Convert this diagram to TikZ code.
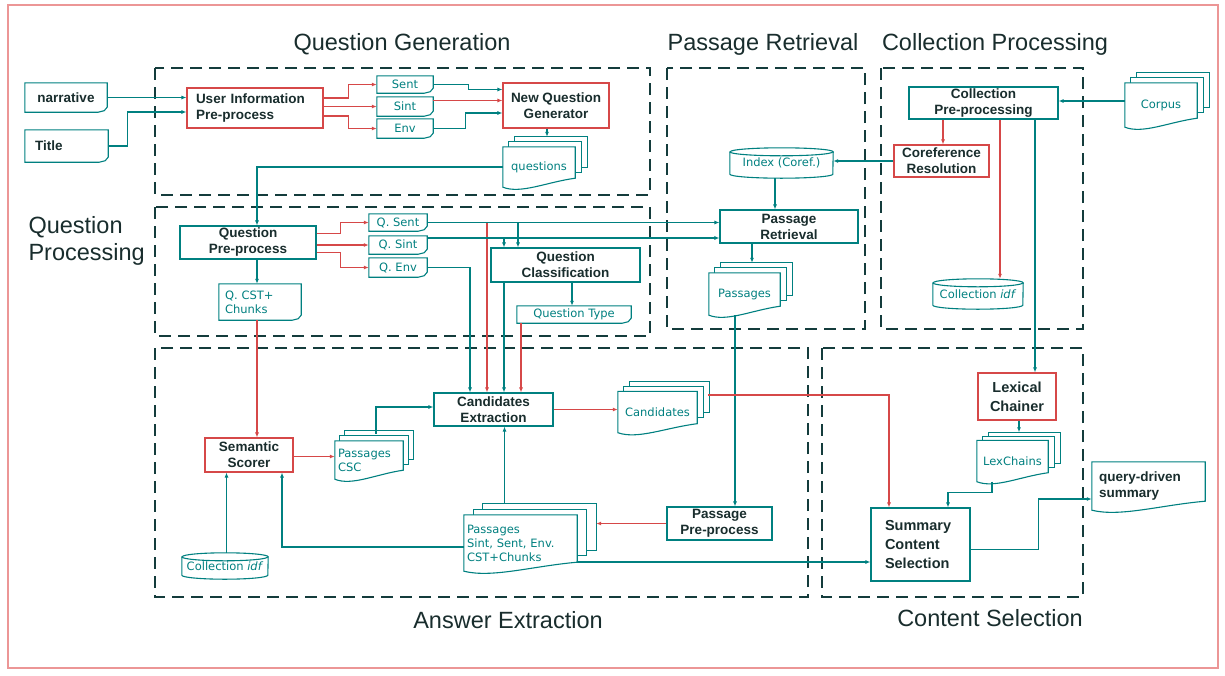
\documentclass[tikz,border=0pt]{standalone}
\usepackage{fontspec}
\setmainfont{DejaVu Sans}
\newfontfamily\lib{Liberation Sans}
\usetikzlibrary{arrows.meta,calc,backgrounds}
\definecolor{tl}{RGB}{0,128,128}
\definecolor{rd}{RGB}{214,72,72}
\definecolor{dk}{RGB}{25,45,45}
\definecolor{frm}{RGB}{236,150,150}
\definecolor{grpc}{RGB}{20,60,60}
\tikzset{
  bld/.style={font=\lib\fontsize{13.5}{16}\selectfont\bfseries, text=dk, align=center, inner sep=0pt},
  plain/.style={font=\fontsize{11.5}{14}\selectfont, text=tl, align=center, inner sep=0pt},
  box/.style={bld, draw=tl, line width=1.1pt, fill=white},
  rbox/.style={box, draw=rd},
  shp/.style={draw=tl, line width=1.1pt, fill=white},
  ln/.style={draw=tl, line width=1.1pt, -{Latex[length=5pt,width=4pt]}},
  rln/.style={ln, draw=rd},
  grp/.style={draw=grpc, line width=2.4pt, dash pattern=on 12pt off 7pt},
  ttl/.style={font=\lib\fontsize{23.5}{27}\selectfont, text=dk, align=left},
}
\newcommand{\DocW}[1]{%
  \path[shp] (#1.north west) -- (#1.north east) -- ([yshift=9pt]#1.south east)
    .. controls ($(#1.south west)!0.6!(#1.south east)+(0pt,5pt)$) and ($(#1.south west)!0.25!(#1.south east)+(0pt,-7pt)$) .. (#1.south west) -- cycle;}
\newcommand{\DocM}[3]{%
  \path[shp] ($(#1.north west)+({2*#2pt},{2*#3pt})$) rectangle ($(#1.south east)+({2*#2pt},{2*#3pt+10pt})$);
  \path[shp] ($(#1.north west)+(#2pt,#3pt)$) rectangle ($(#1.south east)+(#2pt,{#3pt+10pt})$);
  \DocW{#1}}
\newcommand{\DocE}[1]{%
  \path[shp] (#1.north west) -- (#1.north east) -- ([yshift=5pt]#1.south east) -- ([xshift=-3pt,yshift=1.5pt]#1.south east) -- ([xshift=-9pt]#1.south east) -- (#1.south west) -- cycle;}
\newcommand{\DocCyl}[2]{%
  \path[shp] ([yshift=-4pt]#1.north west) -- ([yshift=4pt]#1.south west)
     arc[start angle=180,end angle=360,x radius=#2pt,y radius=4pt]
     -- ([yshift=-4pt]#1.north east)
     arc[start angle=0,end angle=180,x radius=#2pt,y radius=4pt] -- cycle;
  \draw[shp,fill=none] ([yshift=-4pt]#1.north west) arc[start angle=180,end angle=360,x radius=#2pt,y radius=4pt];}
\begin{document}
\begin{tikzpicture}[x=1pt,y=-1pt]
\useasboundingbox (0,0) rectangle (1225,675);

% titles
\node[ttl] (tqg) at (402,44) {Question Generation};
\node[ttl] (tpr) at (763,44) {Passage Retrieval};
\node[ttl] (tcp) at (995,44) {Collection Processing};
\node[ttl, anchor=west] (tqp) at (25,241) {Question\\Processing};
\node[ttl] (tae) at (508,620) {Answer Extraction};
\node[ttl] (tcs) at (990,618) {Content Selection};

% nodes
\node[bld, minimum width=82pt, minimum height=29pt] (narr) at (66,97.5) {narrative};
\node[bld, text width=63pt, inner xsep=10pt, align=left, minimum height=32pt] (title) at (66.5,146) {Title};
\node[rbox, text width=118pt, inner xsep=9pt, align=left, minimum height=40pt] (ui) at (255,108) {User Information\\Pre-process};
\node[plain, minimum width=56pt, minimum height=17pt] (sent) at (405,84.5) {Sent};
\node[plain, minimum width=56pt, minimum height=19pt] (sint) at (405,106.5) {Sint};
\node[plain, minimum width=56pt, minimum height=19pt] (env) at (405,128.5) {Env};
\node[rbox, minimum width=106pt, minimum height=45pt] (nqg) at (556,105.5) {New Question\\Generator};
\node[plain, minimum width=72pt, minimum height=40pt] (ques) at (539,167) {questions};

\node[box, minimum width=136pt, minimum height=33pt] (qp) at (248,242.5) {Question\\Pre-process};
\node[plain, minimum width=58pt, minimum height=17pt] (qsent) at (398,222.5) {Q. Sent};
\node[plain, minimum width=58pt, minimum height=18pt] (qsint) at (398,245) {Q. Sint};
\node[plain, minimum width=58pt, minimum height=19pt] (qenv) at (398,267.5) {Q. Env};
\node[plain, text width=70pt, inner xsep=6pt, align=left, minimum height=36pt] (qcst) at (260,302) {Q. CST+\\Chunks};
\node[box, minimum width=149pt, minimum height=34pt] (qc) at (565.5,265) {Question\\Classification};
\node[plain, minimum width=114pt, minimum height=17pt] (qt) at (574,314.5) {Question Type};

\node[plain, minimum width=103pt, minimum height=30pt] (idx) at (781.5,163) {Index (Coref.)};
\node[box, minimum width=138pt, minimum height=33pt] (pr) at (789,226.5) {Passage\\Retrieval};
\node[plain, minimum width=71pt, minimum height=42pt] (pas) at (744.5,294) {Passages};

\node[box, minimum width=149pt, minimum height=32pt] (cpp) at (983.5,103) {Collection\\Pre-processing};
\node[rbox, minimum width=95pt, minimum height=32pt] (coref) at (941.5,161) {Coreference\\Resolution};
\node[plain, minimum width=72pt, minimum height=44pt] (corpus) at (1161,105) {Corpus};
\node[plain, minimum width=90pt, minimum height=30pt] (cidf) at (978,294) {Collection \textit{idf}};

\node[box, minimum width=119pt, minimum height=33pt] (ce) at (493.5,409.5) {Candidates\\Extraction};
\node[plain, minimum width=79pt, minimum height=41pt] (cands) at (657.5,412) {Candidates};
\node[rbox, minimum width=88pt, minimum height=34pt] (ss) at (249,455) {Semantic\\Scorer};
\node[plain, text width=62pt, inner xsep=3pt, align=left, minimum height=38pt] (csc) at (369,460) {Passages\\CSC};
\node[plain, minimum width=86pt, minimum height=26pt] (cidfl) at (225,566) {Collection \textit{idf}};
\node[plain, text width=107pt, inner xsep=3pt, align=left, minimum height=56pt] (psg) at (520.5,543) {Passages\\Sint, Sent, Env.\\CST+Chunks};
\node[box, minimum width=105pt, minimum height=33pt] (ppp) at (719.5,523.5) {Passage\\Pre-process};

\node[rbox, font=\lib\fontsize{14.5}{19}\selectfont\bfseries, minimum width=78pt, minimum height=47pt] (lc) at (1017,396.5) {Lexical\\Chainer};
\node[plain, minimum width=71pt, minimum height=41pt] (lex) at (1012.5,461) {LexChains};
\node[box, font=\lib\fontsize{14.5}{19}\selectfont\bfseries, text width=71pt, inner xsep=14pt, align=left, minimum height=73pt] (scs) at (920.5,544.5) {Summary\\Content\\Selection};
\node[bld, text width=99pt, inner xsep=7pt, align=left, minimum height=48pt] (qds) at (1148.5,486) {query-driven\\summary\\[6pt]};

\coordinate (psgback) at ([xshift=19pt]psg.east);

% background shapes
\begin{scope}[on background layer]
  \draw[frm, line width=1.2pt] (8,5) rectangle (1218,668);
  \draw[grp] (155,68) rectangle (650,195);
  \draw[grp] (155,207) rectangle (650,336);
  \draw[grp] (667,68) rectangle (865,329);
  \draw[grp] (881,68) rectangle (1083,329);
  \draw[grp] (155,348) rectangle (808,597);
  \draw[grp] (822,348) rectangle (1083,597);
  \DocE{narr}
  \DocE{title}
  \DocE{sent}
  \DocE{sint}
  \DocE{env}
  \DocM{ques}{6}{5}
  \DocE{qsent}
  \DocE{qsint}
  \DocE{qenv}
  \DocE{qcst}
  \DocE{qt}
  \DocCyl{idx}{51.5}
  \DocM{pas}{6}{5}
  \DocM{corpus}{6}{5}
  \DocCyl{cidf}{45}
  \DocM{cands}{6}{5}
  \DocM{csc}{5}{5}
  \DocCyl{cidfl}{43}
  \DocM{psg}{9.5}{5.5}
  \DocM{lex}{6}{4}
  \DocW{qds}
\end{scope}

% connectors
\draw[ln] (narr.east) -- (narr.east -| ui.west);
\draw[ln] (title.east) -- ++(19,0) |- ([yshift=-4pt]ui.west);
\draw[rln] ([yshift=10pt]ui.east) -- ++(25,0) |- (sent.west);
\draw[rln] (ui.east |- sint.west) -- (sint.west);
\draw[rln] ([yshift=-8pt]ui.east) -- ++(25,0) |- (env.west);
\draw[ln] (sent.east) -- ++(35,0) |- ([yshift=16pt]nqg.west);
\draw[rln] ([yshift=6pt]sint.east) -- ([yshift=6pt]sint.east -| nqg.west);
\draw[ln] (env.east) -- ++(32,0) |- ([yshift=-7.5pt]nqg.west);
\draw[ln] ([xshift=-9pt]nqg.south) -- ([xshift=8pt,yshift=10pt]ques.north);
\draw[ln] (ques.west) -| ([xshift=9pt]qp.north);

\draw[rln] ([yshift=9pt]qp.east) -- ++(24,0) |- (qsent.west);
\draw[rln] (qp.east |- qsint.west) -- (qsint.west);
\draw[rln] ([yshift=-10pt]qp.east) -- ++(24,0) |- (qenv.west);
\draw[ln] ([xshift=9pt]qp.south) -- ([xshift=-3pt]qcst.north);
\draw[rln] ([xshift=-3pt]qcst.south) -- ([xshift=8pt]ss.north);
\draw[ln] (qsent.east) -- (qsent.east -| pr.west);
\draw[ln] ([yshift=7pt]qsint.east) -- ([yshift=7pt]qsint.east -| pr.west);
\draw[rln] (qsent.east) -| ([xshift=-6.5pt]ce.north);
\draw[ln] (qsent.east) -| ([xshift=-47.5pt]qc.north);
\draw[ln] ([yshift=7pt]qsint.east) -| ([xshift=-61.5pt]qc.north);
\draw[ln] (qenv.east) -| ([xshift=-23.5pt]ce.north);
\draw[ln] ([xshift=-61.5pt]qc.south) -- ([xshift=10.5pt]ce.north);
\draw[rln] ([xshift=-53pt]qt.south) -- ([xshift=27.5pt]ce.north);
\draw[ln] ([xshift=6.5pt]qc.south) -- ([xshift=-2pt]qt.north);

\draw[ln] ([xshift=-6.5pt]idx.south) -- ([xshift=-14pt]pr.north);
\draw[ln] (coref.west) -- (coref.west -| idx.east);
\draw[rln] ([xshift=-40.5pt]cpp.south) -- ([xshift=1.5pt]coref.north);
\draw[ln] ([yshift=4pt]corpus.west) -- ([yshift=4pt]corpus.west -| cpp.east);
\draw[rln] ([xshift=16.5pt]cpp.south) -- ([xshift=22pt]cidf.north);
\draw[ln] ([xshift=51.5pt]cpp.south) -- ([xshift=18pt]lc.north);
\draw[ln] ([xshift=-37pt]pr.south) -- ([xshift=7.5pt,yshift=10pt]pas.north);
\draw[ln] ([xshift=-9.5pt]pas.south) -- ([xshift=15.5pt]ppp.north);

\draw[rln] (ppp.west) -- (ppp.west -| psgback);
\draw[ln] ([xshift=-16pt,yshift=11pt]psg.north) -- ([xshift=11pt]ce.south);
\draw[ln] ([yshift=-4pt]psg.west) -| ([xshift=33pt]ss.south);
\draw[ln] ([xshift=1.5pt]cidfl.north) -- ([xshift=-22.5pt]ss.south);
\draw[rln] ([yshift=-1.5pt]ss.east) -- ([yshift=-1.5pt]ss.east -| csc.west);
\draw[ln] ([xshift=7pt,yshift=7pt]csc.north) |- ([yshift=2.5pt]ce.west);
\draw[rln] (ce.east) -- (ce.east -| cands.west);
\draw[rln] ([shift={(11pt,17pt)}]cands.east) -| ([xshift=-31.5pt]scs.north);
\draw[ln] ([yshift=-19pt]psg.east) -- ([yshift=-19pt]psg.east -| scs.west);
\draw[ln] ([xshift=2pt]lc.south) -- ([xshift=6.5pt,yshift=8pt]lex.north);
\draw[ln] ([xshift=-20.5pt]lex.south) -- ++(0,11) -| ([xshift=27.5pt]scs.north);
\draw[ln] ([yshift=-5pt]scs.east) -- ++(68,0) |- ([yshift=-13pt]qds.west);
\end{tikzpicture}
\end{document}
